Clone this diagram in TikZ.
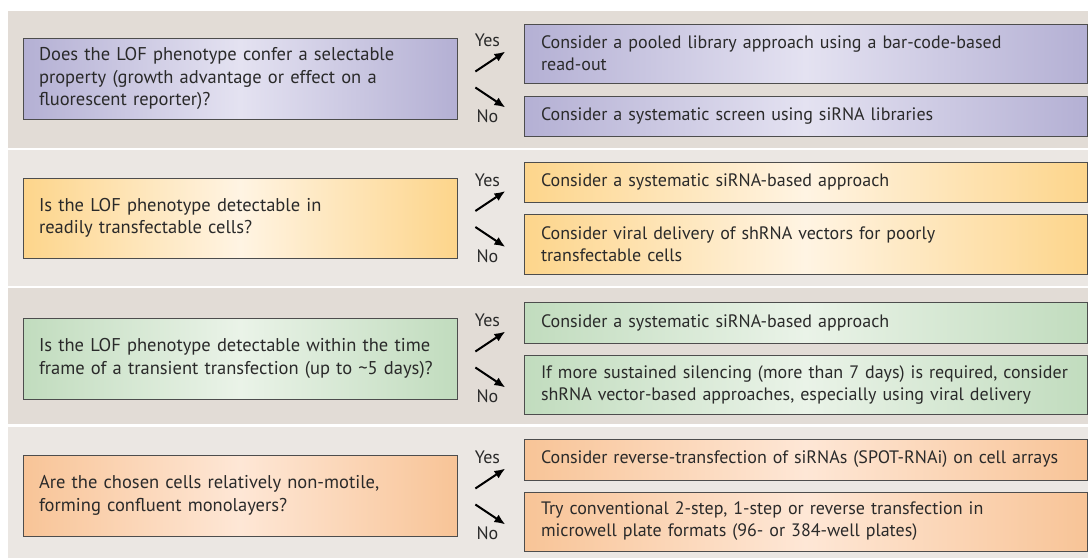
\documentclass[tikz,border=0pt]{standalone}
\usepackage{fontspec}
\setmainfont{PT Sans}[WordSpace=0.8]
\usetikzlibrary{arrows.meta}
\usetikzlibrary{positioning}
\usetikzlibrary{calc}
\hyphenpenalty=10000
\exhyphenpenalty=10000

\definecolor{bandA}{HTML}{E2DCD6}
\definecolor{bandB}{HTML}{EBE7E3}
\definecolor{lila}{HTML}{B4B0D4}
\definecolor{lilaL}{HTML}{E4E2F1}
\definecolor{gold}{HTML}{FDD58B}
\definecolor{goldL}{HTML}{FFF4E3}
\definecolor{sage}{HTML}{C1DCBE}
\definecolor{sageL}{HTML}{EAF3E8}
\definecolor{peach}{HTML}{F8C497}
\definecolor{peachL}{HTML}{FEE7D6}
\definecolor{edge}{HTML}{4D4D4D}
\definecolor{ink}{HTML}{2A2A2A}

\begin{document}
\begin{tikzpicture}[x=1pt, y=-1pt, >={Latex[length=11pt,width=9pt]},
    band/.style={fill=#1, minimum width=1080pt, inner sep=0pt},
    qbox/.style 2 args={draw=edge, line width=0.8pt, left color=#1, right color=#1, middle color=#2,
      text=ink, inner xsep=16pt, inner ysep=0pt, text width=402pt, align=left,
      font=\fontsize{18.5}{22.5}\selectfont},
    abox/.style 2 args={draw=edge, line width=0.8pt, left color=#1, right color=#1, middle color=#2,
      text=ink, inner xsep=17pt, inner ysep=0pt, text width=529pt, align=left,
      font=\fontsize{18}{22}\selectfont},
    lbl/.style={text=ink, inner sep=0pt, font=\fontsize{18}{20}\selectfont},
    arr/.style={->, line width=2pt, draw=black}]
    \fill[white] (0,0) rectangle (1088,558);
    \useasboundingbox (0,0) rectangle (1088,558);

    % background bands
    \node[band=bandA, minimum height=137pt] (band1) at (548,79.5) {};
    \node[band=bandB, minimum height=136pt] (band2) at (548,218) {};
    \node[band=bandA, minimum height=136pt] (band3) at (548,356) {};
    \node[band=bandB, minimum height=131pt] (band4) at (548,492.5) {};

    % questions
    \node[qbox={lila}{lilaL}, minimum height=81pt] (q1) at (240,78.5)
      {Does the LOF phenotype confer a selectable\\ property (growth advantage or effect on a\\ fluorescent reporter)?};
    \node[qbox={gold}{goldL}, minimum height=80pt] (q2) at (240,218)
      {Is the LOF phenotype detectable in\\ readily transfectable cells?};
    \node[qbox={sage}{sageL}, minimum height=81pt] (q3) at (240,358.5)
      {Is the LOF phenotype detectable within the time\\ frame of a transient transfection (up to \textasciitilde5 days)?};
    \node[qbox={peach}{peachL}, minimum height=81pt] (q4) at (240,495.5)
      {Are the chosen cells relatively non-motile,\\ forming confluent monolayers?};

    % answers
    \node[abox={lila}{lilaL}, minimum height=59pt] (yes1) at (805.5,53.5)
      {Consider a pooled library approach using a bar-code-based\\ read-out};
    \node[abox={lila}{lilaL}, minimum height=40pt] (no1) at (805.5,116)
      {Consider a systematic screen using siRNA libraries};
    \node[abox={gold}{goldL}, minimum height=40pt] (yes2) at (805.5,182)
      {Consider a systematic siRNA-based approach};
    \node[abox={gold}{goldL}, minimum height=60pt] (no2) at (805.5,244)
      {Consider viral delivery of shRNA vectors for poorly\\ transfectable cells};
    \node[abox={sage}{sageL}, minimum height=41pt] (yes3) at (805.5,322.5)
      {Consider a systematic siRNA-based approach};
    \node[abox={sage}{sageL}, minimum height=59pt] (no3) at (805.5,384.5)
      {If more sustained silencing (more than 7 days) is required, consider\\ shRNA vector-based approaches, especially using viral delivery};
    \node[abox={peach}{peachL}, minimum height=41pt] (yes4) at (805.5,459.5)
      {Consider reverse-transfection of siRNAs (SPOT-RNAi) on cell arrays};
    \node[abox={peach}{peachL}, minimum height=59pt] (no4) at (805.5,521.5)
      {Try conventional 2-step, 1-step or reverse transfection in\\ microwell plate formats (96- or 384-well plates)};

    % yes / no labels
    \node[lbl] (ylab1) at ($(q1.east)+(30,-38)$) {Yes};
    \node[lbl] (nlab1) at ($(q1.east)+(30,38)$) {No};
    \node[lbl] (ylab2) at ($(q2.east)+(30,-38)$) {Yes};
    \node[lbl] (nlab2) at ($(q2.east)+(30,38)$) {No};
    \node[lbl] (ylab3) at ($(q3.east)+(30,-38)$) {Yes};
    \node[lbl] (nlab3) at ($(q3.east)+(30,38)$) {No};
    \node[lbl] (ylab4) at ($(q4.east)+(30,-38)$) {Yes};
    \node[lbl] (nlab4) at ($(q4.east)+(30,38)$) {No};

    % arrow ends
    \coordinate (ys1) at ($(q1.east)+(18,-7)$);
    \coordinate (ye1) at ($(q1.east)+(48,-27)$);
    \coordinate (ns1) at ($(q1.east)+(18,9)$);
    \coordinate (ne1) at ($(q1.east)+(48,29)$);
    \coordinate (ys2) at ($(q2.east)+(18,-7)$);
    \coordinate (ye2) at ($(q2.east)+(48,-27)$);
    \coordinate (ns2) at ($(q2.east)+(18,9)$);
    \coordinate (ne2) at ($(q2.east)+(48,29)$);
    \coordinate (ys3) at ($(q3.east)+(18,-7)$);
    \coordinate (ye3) at ($(q3.east)+(48,-27)$);
    \coordinate (ns3) at ($(q3.east)+(18,9)$);
    \coordinate (ne3) at ($(q3.east)+(48,29)$);
    \coordinate (ys4) at ($(q4.east)+(18,-7)$);
    \coordinate (ye4) at ($(q4.east)+(48,-27)$);
    \coordinate (ns4) at ($(q4.east)+(18,9)$);
    \coordinate (ne4) at ($(q4.east)+(48,29)$);

    \draw[arr] (ys1) -- (ye1);
    \draw[arr] (ns1) -- (ne1);
    \draw[arr] (ys2) -- (ye2);
    \draw[arr] (ns2) -- (ne2);
    \draw[arr] (ys3) -- (ye3);
    \draw[arr] (ns3) -- (ne3);
    \draw[arr] (ys4) -- (ye4);
    \draw[arr] (ns4) -- (ne4);
\end{tikzpicture}
\end{document}
